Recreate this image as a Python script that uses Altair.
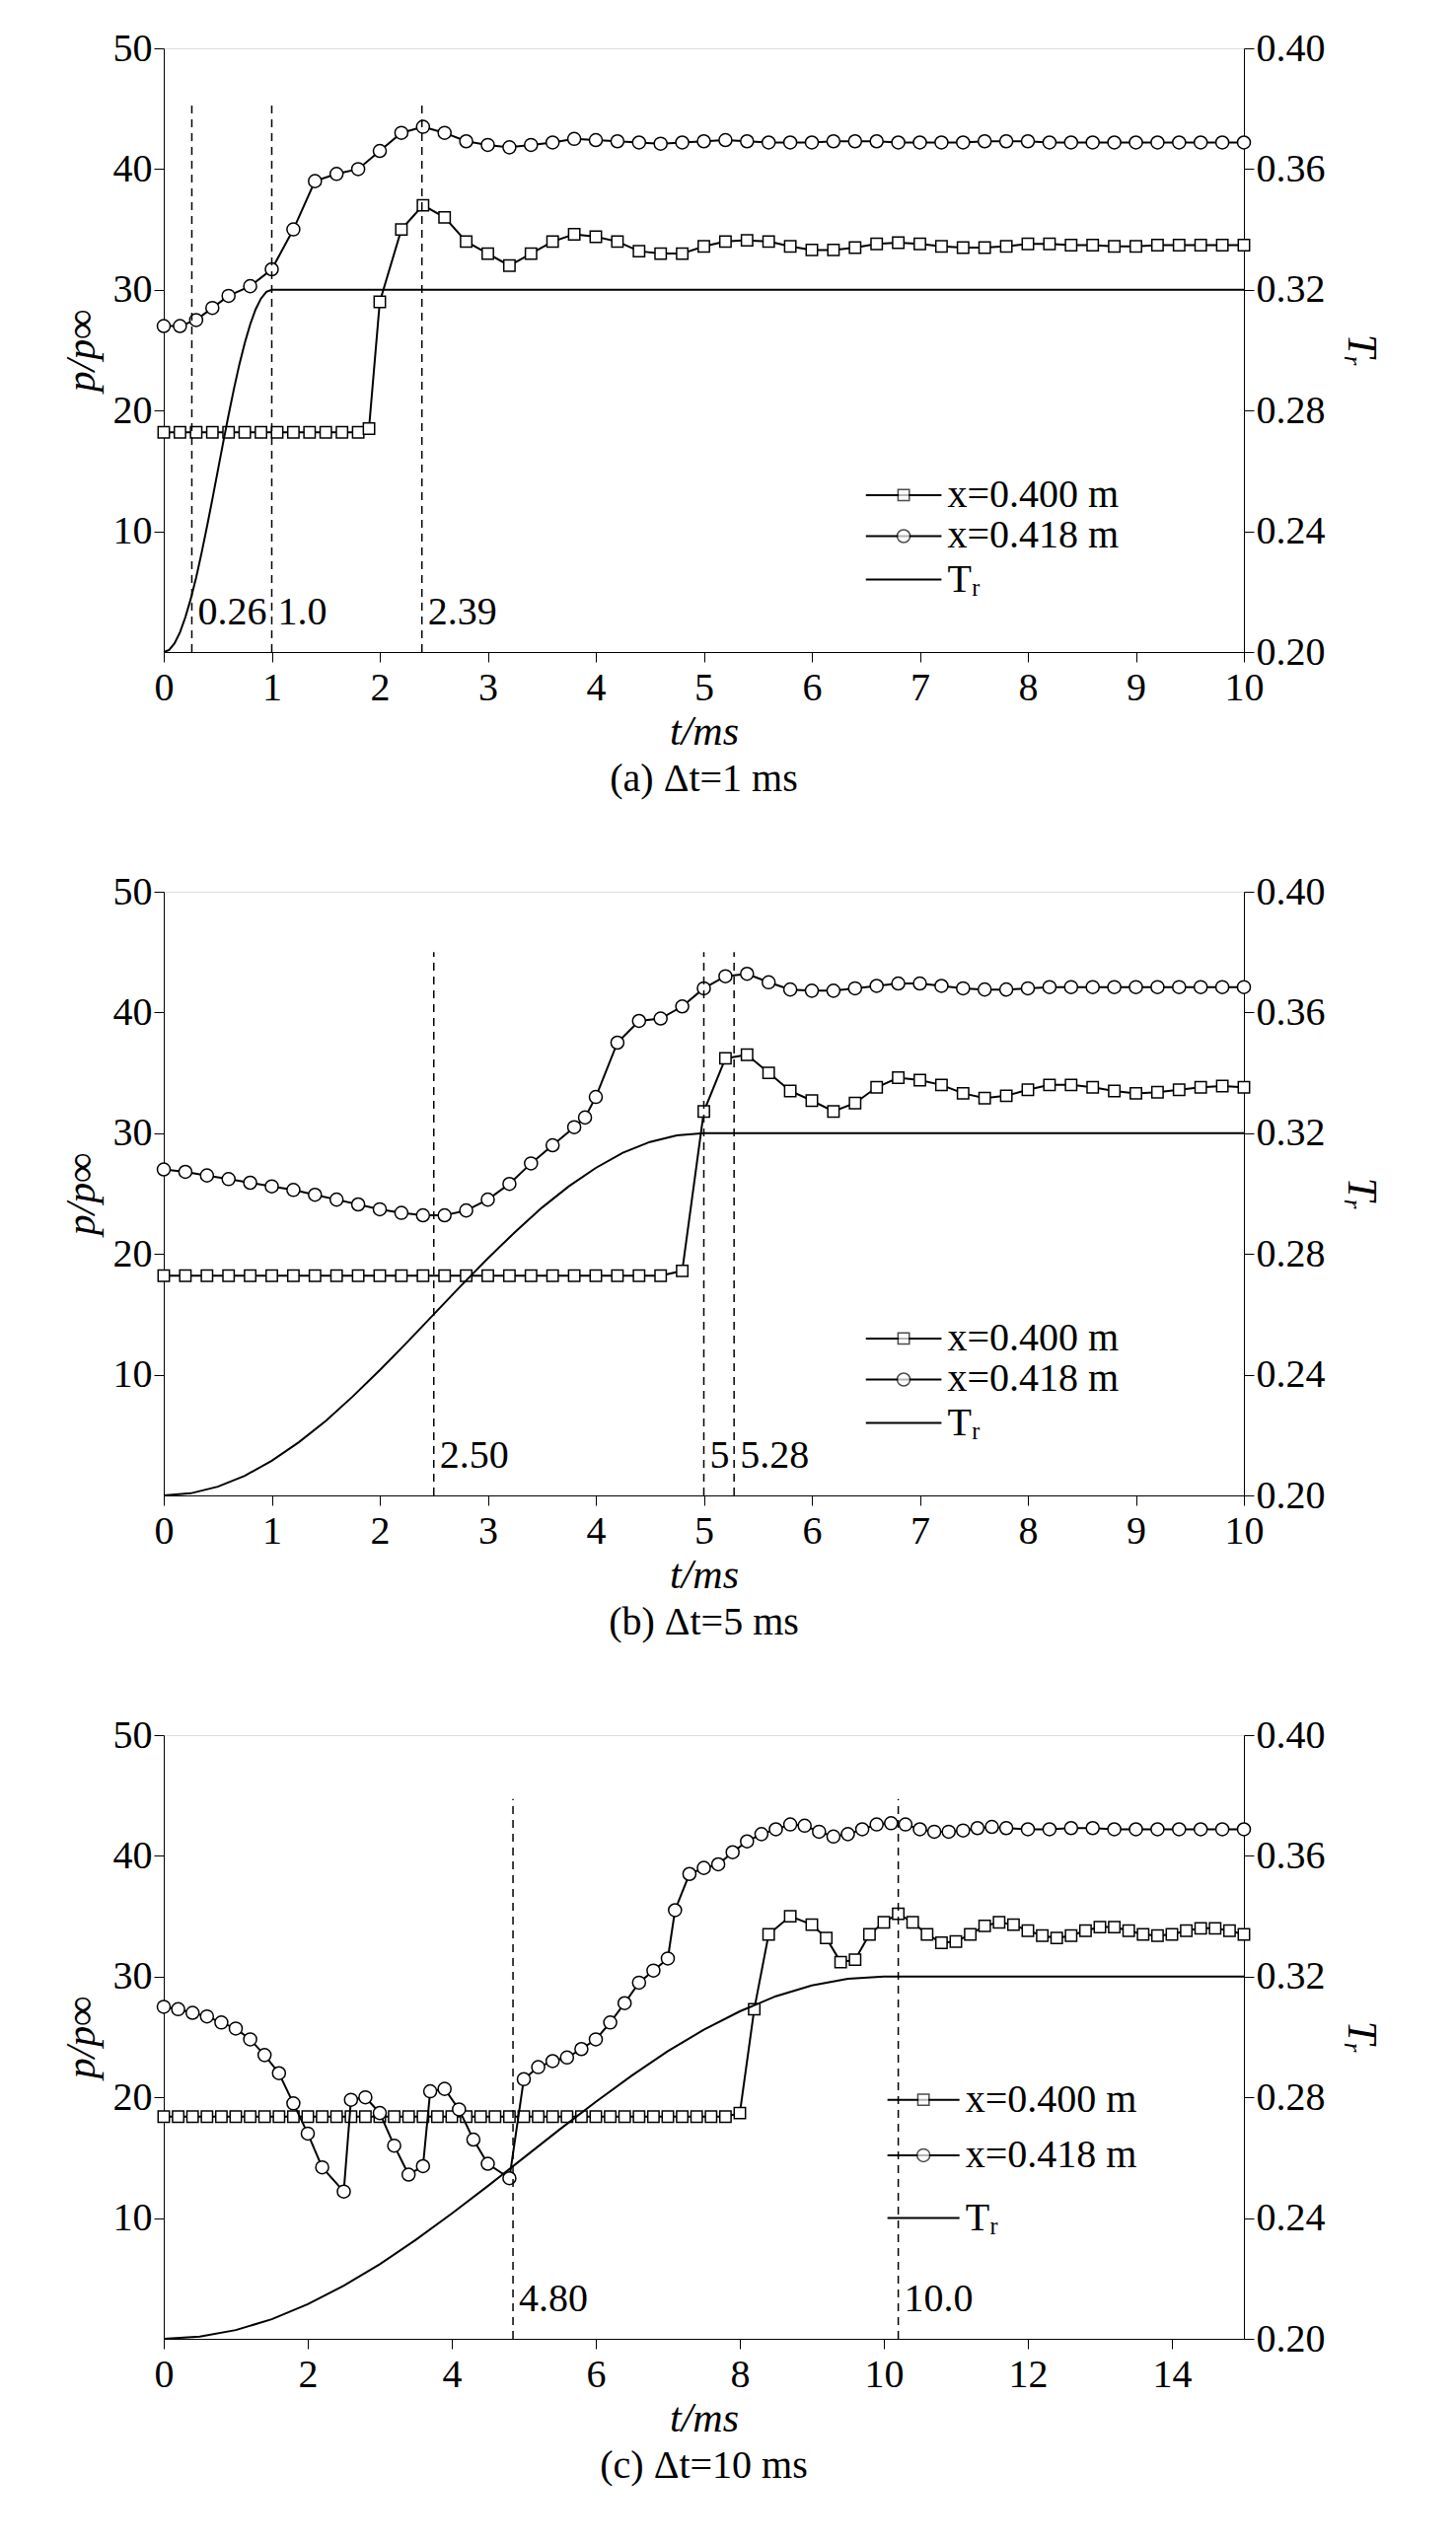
import altair as alt
import pandas as pd

FONT = "Liberation Serif"
W, H = 1095, 612

# shared Tr ramp shape, fraction of ramp time -> Tr
ramp_frac = [0,0.05,0.1,0.15,0.2,0.25,0.3,0.35,0.4,0.45,0.5,0.55,0.6,0.65,0.7,0.75,0.8,0.85,0.9,0.95,1.0]
ramp_tr = [0.2000,0.2007,0.2029,0.2065,0.2115,0.2176,0.2247,0.2328,0.2415,0.2506,0.2600,0.2694,0.2785,0.2872,0.2953,0.3024,0.3085,0.3135,0.3171,0.3193,0.3200]

# ---------- panel (a) ----------
a_sq_t = [0,0.15,0.3,0.45,0.6,0.75,0.9,1.05,1.2,1.35,1.5,1.65,1.8,1.9,2.0,2.2,2.4,2.6,2.8,3.0,3.2,3.4,3.6,3.8,4.0,4.2,4.4,4.6,4.8,5.0,5.2,5.4,5.6,5.8,6.0,6.2,6.4,6.6,6.8,7.0,7.2,7.4,7.6,7.8,8.0,8.2,8.4,8.6,8.8,9.0,9.2,9.4,9.6,9.8,10.0]
a_sq_p = [18.2]*13 + [18.5,29,35,37,36,34,33,32,33,34,34.6,34.4,34,33.2,33,33,33.6,34,34.1,34,33.6,33.3,33.3,33.5,33.8,33.9,33.8,33.6,33.5,33.5,33.6,33.8,33.8,33.7,33.7,33.6,33.6,33.7,33.7,33.7,33.7,33.7]
a_ci_t = [0,0.15,0.3,0.45,0.6,0.8,1.0,1.2,1.4,1.6,1.8,2.0,2.2,2.4,2.6,2.8,3.0,3.2,3.4,3.6,3.8,4.0,4.2,4.4,4.6,4.8,5.0,5.2,5.4,5.6,5.8,6.0,6.2,6.4,6.6,6.8,7.0,7.2,7.4,7.6,7.8,8.0,8.2,8.4,8.6,8.8,9.0,9.2,9.4,9.6,9.8,10.0]
a_ci_p = [27,27,27.5,28.5,29.5,30.3,31.7,35,39,39.6,40,41.5,43,43.5,43,42.3,42,41.8,42,42.2,42.5,42.4,42.3,42.2,42.1,42.2,42.3,42.4,42.3,42.2,42.2,42.2,42.3,42.3,42.3,42.2,42.2,42.2,42.2,42.3,42.3,42.3,42.2,42.2,42.2,42.2,42.2,42.2,42.2,42.2,42.2,42.2]
a_ramp = 1.0

# ---------- panel (b) ----------
b_sq_t = [round(0.2*i,1) for i in range(24)] + [4.8,5.0,5.2,5.4,5.6,5.8,6.0,6.2,6.4,6.6,6.8,7.0,7.2,7.4,7.6,7.8,8.0,8.2,8.4,8.6,8.8,9.0,9.2,9.4,9.6,9.8,10.0]
b_sq_p = [18.2]*24 + [18.6,31.8,36.2,36.5,35,33.5,32.7,31.8,32.5,33.8,34.6,34.4,34,33.3,32.9,33.1,33.6,34,34,33.8,33.5,33.3,33.4,33.6,33.8,33.9,33.8]
b_ci_t = [0,0.2,0.4,0.6,0.8,1.0,1.2,1.4,1.6,1.8,2.0,2.2,2.4,2.6,2.8,3.0,3.2,3.4,3.6,3.8,3.9,4.0,4.2,4.4,4.6,4.8,5.0,5.2,5.4,5.6,5.8,6.0,6.2,6.4,6.6,6.8,7.0,7.2,7.4,7.6,7.8,8.0,8.2,8.4,8.6,8.8,9.0,9.2,9.4,9.6,9.8,10.0]
b_ci_p = [27,26.8,26.5,26.2,25.9,25.6,25.3,24.9,24.5,24.1,23.7,23.4,23.2,23.2,23.6,24.5,25.8,27.5,29,30.5,31.3,33,37.5,39.3,39.5,40.5,42,43,43.2,42.5,41.9,41.8,41.8,42,42.2,42.4,42.4,42.2,42.0,41.9,41.9,42,42.1,42.1,42.1,42.1,42.1,42.1,42.1,42.1,42.1,42.1]
b_ramp = 5.0

# ---------- panel (c) ----------
c_sq_t = [round(0.2*i,1) for i in range(41)] + [8.2,8.4,8.7,9.0,9.2,9.4,9.6,9.8,10.0,10.2,10.4,10.6,10.8,11.0,11.2,11.4,11.6,11.8,12.0,12.2,12.4,12.6,12.8,13.0,13.2,13.4,13.6,13.8,14.0,14.2,14.4,14.6,14.8,15.0]
c_sq_p = [18.4]*40 + [18.7,27.3,33.5,35,34.3,33.2,31.2,31.4,33.5,34.5,35.2,34.5,33.5,32.8,32.9,33.5,34.2,34.5,34.3,33.8,33.4,33.2,33.4,33.8,34.1,34.1,33.8,33.5,33.4,33.5,33.8,34,34,33.8,33.5]
c_ci_t = [0,0.2,0.4,0.6,0.8,1.0,1.2,1.4,1.6,1.8,2.0,2.2,2.5,2.6,2.8,3.0,3.2,3.4,3.6,3.7,3.9,4.1,4.3,4.5,4.8,5.0,5.2,5.4,5.6,5.8,6.0,6.2,6.4,6.6,6.8,7.0,7.1,7.3,7.5,7.7,7.9,8.1,8.3,8.5,8.7,8.9,9.1,9.3,9.5,9.7,9.9,10.1,10.3,10.5,10.7,10.9,11.1,11.3,11.5,11.7,12.0,12.3,12.6,12.9,13.2,13.5,13.8,14.1,14.4,14.7,15.0]
c_ci_p = [27.5,27.3,27,26.7,26.2,25.7,24.8,23.5,22,19.5,17,14.2,12.2,19.8,20,18.7,16,13.6,14.3,20.5,20.7,19,16.5,14.5,13.3,21.5,22.5,23,23.3,24,24.8,26.2,27.8,29.5,30.5,31.5,35.5,38.5,39,39.3,40.3,41.2,41.8,42.2,42.6,42.5,42,41.6,41.8,42.2,42.6,42.7,42.6,42.2,42,42,42.1,42.3,42.4,42.3,42.2,42.2,42.3,42.3,42.2,42.2,42.2,42.2,42.2,42.2,42.2]
c_ramp = 10.0


def axis_common():
    return dict(grid=False, labelFont=FONT, titleFont=FONT, labelFontSize=40, titleFontSize=42,
                titleFontWeight="normal", titleFontStyle="italic", tickSize=10,
                domainColor="black", tickColor="black", labelColor="black", titleColor="black")


def panel(sq_t, sq_p, ci_t, ci_p, ramp, vlines, vtop, vlabels, xmax, xticks,
          leg_x0, leg_x1, leg_rows, subtitle):
    xs = alt.Scale(domain=[0, xmax], nice=False, zero=False)
    xax = alt.Axis(values=xticks, title="t/ms", format="d", labelPadding=6, labelFlush=False,
                   **axis_common())
    ys = alt.Scale(domain=[0, 50], nice=False)
    yax = alt.Axis(values=[10, 20, 30, 40, 50], title="p/p∞", titlePadding=10, **axis_common())
    sq = pd.DataFrame({"t": sq_t, "p": sq_p})
    ci = pd.DataFrame({"t": ci_t, "p": ci_p})
    base_sq = alt.Chart(sq).mark_line(color="black", strokeWidth=2, point=alt.OverlayMarkDef(
        shape="square", filled=False, fill="white", stroke="black", strokeWidth=1.5, size=130)).encode(
        x=alt.X("t:Q", scale=xs, axis=xax), y=alt.Y("p:Q", scale=ys, axis=yax))
    base_ci = alt.Chart(ci).mark_line(color="black", strokeWidth=2, point=alt.OverlayMarkDef(
        shape="circle", filled=False, fill="white", stroke="black", strokeWidth=1.5, size=170)).encode(
        x=alt.X("t:Q", scale=xs), y=alt.Y("p:Q", scale=ys))
    vl = pd.DataFrame({"t": vlines, "y0": [0]*len(vlines), "y1": [vtop]*len(vlines),
                       "lab": vlabels, "ly": [3.3]*len(vlines)})
    rules = alt.Chart(vl).mark_rule(color="black", strokeDash=[8, 6], strokeWidth=1.5).encode(
        x=alt.X("t:Q", scale=xs), y=alt.Y("y0:Q", scale=ys), y2="y1:Q")
    labs = alt.Chart(vl).mark_text(font=FONT, fontSize=40, align="left", dx=6, color="black").encode(
        x=alt.X("t:Q", scale=xs), y=alt.Y("ly:Q", scale=ys), text="lab:N")
    names = ["x=0.400 m", "x=0.418 m", "Tᵣ"]
    shapes = ["square", "circle", None]
    leg_layers = []
    for nm, sh, yy in zip(names, shapes, leg_rows):
        ld = pd.DataFrame({"t": [leg_x0, leg_x1], "p": [yy, yy]})
        leg_layers.append(alt.Chart(ld).mark_line(color="black", strokeWidth=2).encode(
            x=alt.X("t:Q", scale=xs), y=alt.Y("p:Q", scale=ys)))
        if sh:
            md = pd.DataFrame({"t": [(leg_x0 + leg_x1) / 2], "p": [yy]})
            leg_layers.append(alt.Chart(md).mark_point(shape=sh, filled=False, fill="white",
                                                         color="black", strokeWidth=1.5,
                                                         size=130 if sh == "square" else 170).encode(
                x=alt.X("t:Q", scale=xs), y=alt.Y("p:Q", scale=ys)))
        td = pd.DataFrame({"t": [leg_x1], "p": [yy], "s": [nm]})
        leg_layers.append(alt.Chart(td).mark_text(font=FONT, fontSize=40, align="left", dx=6,
                                                  color="black").encode(
            x=alt.X("t:Q", scale=xs), y=alt.Y("p:Q", scale=ys), text="s:N"))
    left = alt.layer(base_sq, base_ci, rules, labs, *leg_layers)
    tr = pd.DataFrame({"t": [f * ramp for f in ramp_frac] + [xmax], "v": ramp_tr + [0.32]})
    right = alt.Chart(tr).mark_line(color="black", strokeWidth=2).encode(
        x=alt.X("t:Q", scale=xs),
        y=alt.Y("v:Q", scale=alt.Scale(domain=[0.2, 0.4], nice=False, zero=False),
                axis=alt.Axis(orient="right", values=[0.2, 0.24, 0.28, 0.32, 0.36, 0.4], format=".2f",
                              title="Tᵣ", titlePadding=14, **axis_common())))
    return alt.layer(left, right).resolve_scale(y="independent").properties(
        width=W, height=H,
        title=alt.TitleParams(subtitle, orient="bottom", font=FONT, fontSize=40,
                              fontWeight="normal", color="black", offset=8))


pa = panel(a_sq_t, a_sq_p, a_ci_t, a_ci_p, a_ramp, [0.26, 1.0, 2.39], 45.3,
           ["0.26", "1.0", "2.39"], 10, list(range(11)), 6.5, 7.2, [13.0, 9.6, 6.0], "(a) Δt=1 ms")
pb = panel(b_sq_t, b_sq_p, b_ci_t, b_ci_p, b_ramp, [2.5, 5.0, 5.28], 45.0,
           ["2.50", "5", "5.28"], 10, list(range(11)), 6.5, 7.2, [13.0, 9.6, 6.0], "(b) Δt=5 ms")
pc = panel(c_sq_t, c_sq_p, c_ci_t, c_ci_p, c_ramp, [4.85, 10.2], 44.7,
           ["4.80", "10.0"], 15, list(range(0, 15, 2)), 10.05, 11.05, [19.8, 15.2, 10.0], "(c) Δt=10 ms")

chart = alt.vconcat(pa, pb, pc, spacing=72).configure_view(stroke="black", strokeWidth=2).configure(
    background="white", padding={"left": 52, "top": 20, "right": 10, "bottom": 10})

chart.save("out.html", embed_options={"renderer": "svg", "actions": False})
